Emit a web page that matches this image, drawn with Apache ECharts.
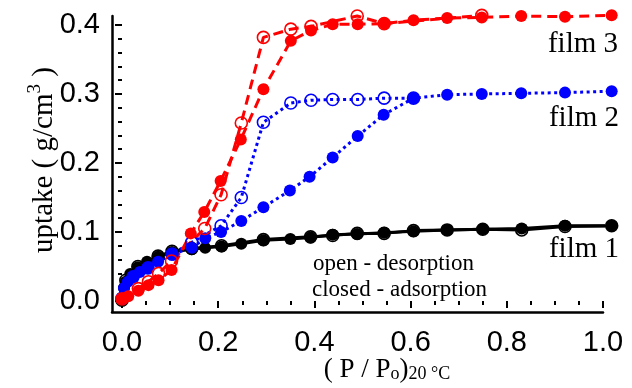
<!DOCTYPE html>
<html>
<head>
<meta charset="utf-8">
<script src="https://cdn.jsdelivr.net/npm/echarts@6/dist/echarts.min.js"></script>
<style>html,body{margin:0;padding:0;background:#fff;}#c{width:632px;height:388px;}</style>
</head>
<body>
<div id="c"></div>
<script>
// ---- data (P/Po, uptake g/cm3) ----
const film3AdsX = [0.000, 0.013, 0.034, 0.055, 0.076, 0.103, 0.143, 0.171, 0.205, 0.247, 0.294, 0.351, 0.393, 0.438, 0.490, 0.546, 0.606, 0.676, 0.748, 0.830, 0.921, 1.018];
const film3AdsY = [0.004, 0.007, 0.015, 0.023, 0.030, 0.045, 0.098, 0.129, 0.174, 0.234, 0.307, 0.377, 0.392, 0.401, 0.401, 0.402, 0.407, 0.410, 0.411, 0.413, 0.412, 0.414];
const film3DesX = [0.000, 0.034, 0.055, 0.076, 0.103, 0.172, 0.206, 0.248, 0.294, 0.351, 0.393, 0.489, 0.545, 0.748];
const film3DesY = [0.003, 0.018, 0.028, 0.040, 0.058, 0.105, 0.154, 0.258, 0.382, 0.394, 0.398, 0.413, 0.402, 0.414];

const film2AdsX = [0.000, 0.004, 0.012, 0.023, 0.037, 0.054, 0.075, 0.104, 0.145, 0.173, 0.206, 0.248, 0.294, 0.349, 0.390, 0.438, 0.490, 0.544, 0.606, 0.676, 0.748, 0.830, 0.921, 1.018];
const film2AdsY = [0.004, 0.019, 0.028, 0.035, 0.042, 0.048, 0.057, 0.068, 0.077, 0.091, 0.100, 0.116, 0.136, 0.160, 0.180, 0.208, 0.239, 0.270, 0.294, 0.299, 0.300, 0.301, 0.302, 0.304];
const film2DesX = [0.000, 0.023, 0.054, 0.104, 0.145, 0.206, 0.248, 0.294, 0.351, 0.393, 0.438, 0.490, 0.545, 0.606];
const film2DesY = [0.004, 0.035, 0.048, 0.068, 0.085, 0.109, 0.150, 0.259, 0.287, 0.291, 0.292, 0.292, 0.294, 0.294];

const film1AdsX = [0.000, 0.004, 0.008, 0.017, 0.033, 0.052, 0.075, 0.104, 0.145, 0.173, 0.207, 0.248, 0.294, 0.350, 0.392, 0.438, 0.489, 0.545, 0.606, 0.676, 0.750, 0.831, 0.921, 1.018];
const film1AdsY = [0.001, 0.019, 0.028, 0.039, 0.049, 0.057, 0.064, 0.071, 0.075, 0.077, 0.079, 0.083, 0.088, 0.090, 0.092, 0.096, 0.097, 0.099, 0.101, 0.103, 0.104, 0.105, 0.109, 0.109];
const film1DesX = [0.000, 0.008, 0.033, 0.075, 0.104, 0.145, 0.207, 0.294, 0.392, 0.438, 0.489, 0.545, 0.606, 0.676, 0.750, 0.831, 0.921, 1.018];
const film1DesY = [0.001, 0.030, 0.050, 0.065, 0.072, 0.076, 0.080, 0.089, 0.093, 0.095, 0.098, 0.098, 0.102, 0.103, 0.104, 0.103, 0.108, 0.109];

const xTickLabels = ['0.0', '0.2', '0.4', '0.6', '0.8', '1.0'];
const yTickLabels = ['0.0', '0.1', '0.2', '0.3', '0.4'];

const zip = (xs, ys) => xs.map((x, i) => [x, ys[i]]);
const SERIF = 'Liberation Serif';
const SANS = 'Liberation Sans';

function mk(name, xs, ys, color, lineType, width, open) {
  return {
    name, type: 'line', xAxisIndex: 1, yAxisIndex: 1, clip: false,
    data: zip(xs, ys), symbol: 'circle', symbolSize: 12,
    lineStyle: { color, width, type: lineType, cap: 'butt' },
    itemStyle: open ? { color: 'rgba(255,255,255,0)', borderColor: color, borderWidth: 1.6 }
                    : { color: color, borderColor: color, borderWidth: 0 },
    emphasis: { disabled: true }, z: 3
  };
}
const redDash = [10, 6];
const blueDot = [3, 3.5];

const chart = echarts.init(document.getElementById('c'), null, { renderer: 'canvas' });
const tickStyle = { color: '#000', width: 2 };
chart.setOption({
  animation: false,
  backgroundColor: '#fff',
  grid: [
    { left: 112, right: 29, top: 16, bottom: 76 },
    { left: 122, right: 29, top: 25, bottom: 87 }
  ],
  xAxis: [
    { gridIndex: 0, type: 'value', min: 0, max: 1, axisLine: { show: true, lineStyle: { color: '#000', width: 2.5 } },
      axisTick: { show: false }, axisLabel: { show: false }, splitLine: { show: false } },
    { gridIndex: 1, type: 'value', min: 0, max: 1, interval: 0.2, offset: 11,
      axisLine: { show: false }, splitLine: { show: false },
      axisTick: { show: true, length: 7, lineStyle: tickStyle },
      minorTick: { show: true, splitNumber: 4, length: 4, lineStyle: tickStyle },
      axisLabel: { color: '#000', fontSize: 29, fontFamily: SANS, margin: 16,
        formatter: v => xTickLabels[Math.round(v / 0.2)] } }
  ],
  yAxis: [
    { gridIndex: 0, type: 'value', min: 0, max: 1, axisLine: { show: true, lineStyle: { color: '#000', width: 2.5 } },
      axisTick: { show: false }, axisLabel: { show: false }, splitLine: { show: false } },
    { gridIndex: 1, type: 'value', min: 0, max: 0.4, interval: 0.1, offset: 10,
      axisLine: { show: false }, splitLine: { show: false },
      axisTick: { show: true, length: 7, lineStyle: tickStyle },
      minorTick: { show: true, splitNumber: 5, length: 4, lineStyle: tickStyle },
      axisLabel: { color: '#000', fontSize: 29, fontFamily: SANS, margin: 12,
        formatter: v => yTickLabels[Math.round(v / 0.1)] } }
  ],
  series: [
    mk('film1 des', film1DesX, film1DesY, '#000', 'solid', 3, true),
    mk('film1 ads', film1AdsX, film1AdsY, '#000', 'solid', 3, false),
    mk('film2 des', film2DesX, film2DesY, '#0000ff', blueDot, 3, true),
    mk('film2 ads', film2AdsX, film2AdsY, '#0000ff', blueDot, 3, false),
    mk('film3 des', film3DesX, film3DesY, '#ff0000', redDash, 3, true),
    mk('film3 ads', film3AdsX, film3AdsY, '#ff0000', redDash, 3, false)
  ],
  graphic: [
    { type: 'text', x: 618, y: 44, z: 10, style: { text: 'film 3', font: '29px "Liberation Serif"', fill: '#000', align: 'right', verticalAlign: 'middle' } },
    { type: 'text', x: 619, y: 118, z: 10, style: { text: 'film 2', font: '29px "Liberation Serif"', fill: '#000', align: 'right', verticalAlign: 'middle' } },
    { type: 'text', x: 619, y: 249, z: 10, style: { text: 'film 1', font: '29px "Liberation Serif"', fill: '#000', align: 'right', verticalAlign: 'middle' } },
    { type: 'text', x: 313, y: 264, z: 10, style: { text: 'open - desorption', font: '23px "Liberation Serif"', fill: '#000', align: 'left', verticalAlign: 'middle' } },
    { type: 'text', x: 312, y: 290, z: 10, style: { text: 'closed - adsorption', font: '23px "Liberation Serif"', fill: '#000', align: 'left', verticalAlign: 'middle' } },
    { type: 'text', x: 44, y: 160, rotation: Math.PI / 2, z: 10,
      style: { text: '{a|uptake ( g/cm}{s|3}{a| )}', align: 'center', verticalAlign: 'middle', fill: '#000',
        rich: { a: { fontSize: 29, fontFamily: SERIF, lineHeight: 29, verticalAlign: 'bottom' },
                s: { fontSize: 19, fontFamily: SERIF, lineHeight: 19, padding: [0, 0, 14, 0], verticalAlign: 'bottom' } } } },
    { type: 'text', x: 387, y: 370, z: 10,
      style: { text: '{a|( P / P}{s|o}{a|)}{s|20 °C}', align: 'center', verticalAlign: 'middle', fill: '#000',
        rich: { a: { fontSize: 27, fontFamily: SERIF, lineHeight: 27, verticalAlign: 'top' },
                s: { fontSize: 18, fontFamily: SERIF, lineHeight: 18, padding: [21, 0, 0, 0], verticalAlign: 'bottom' } } } }
  ]
});
</script>
</body>
</html>
